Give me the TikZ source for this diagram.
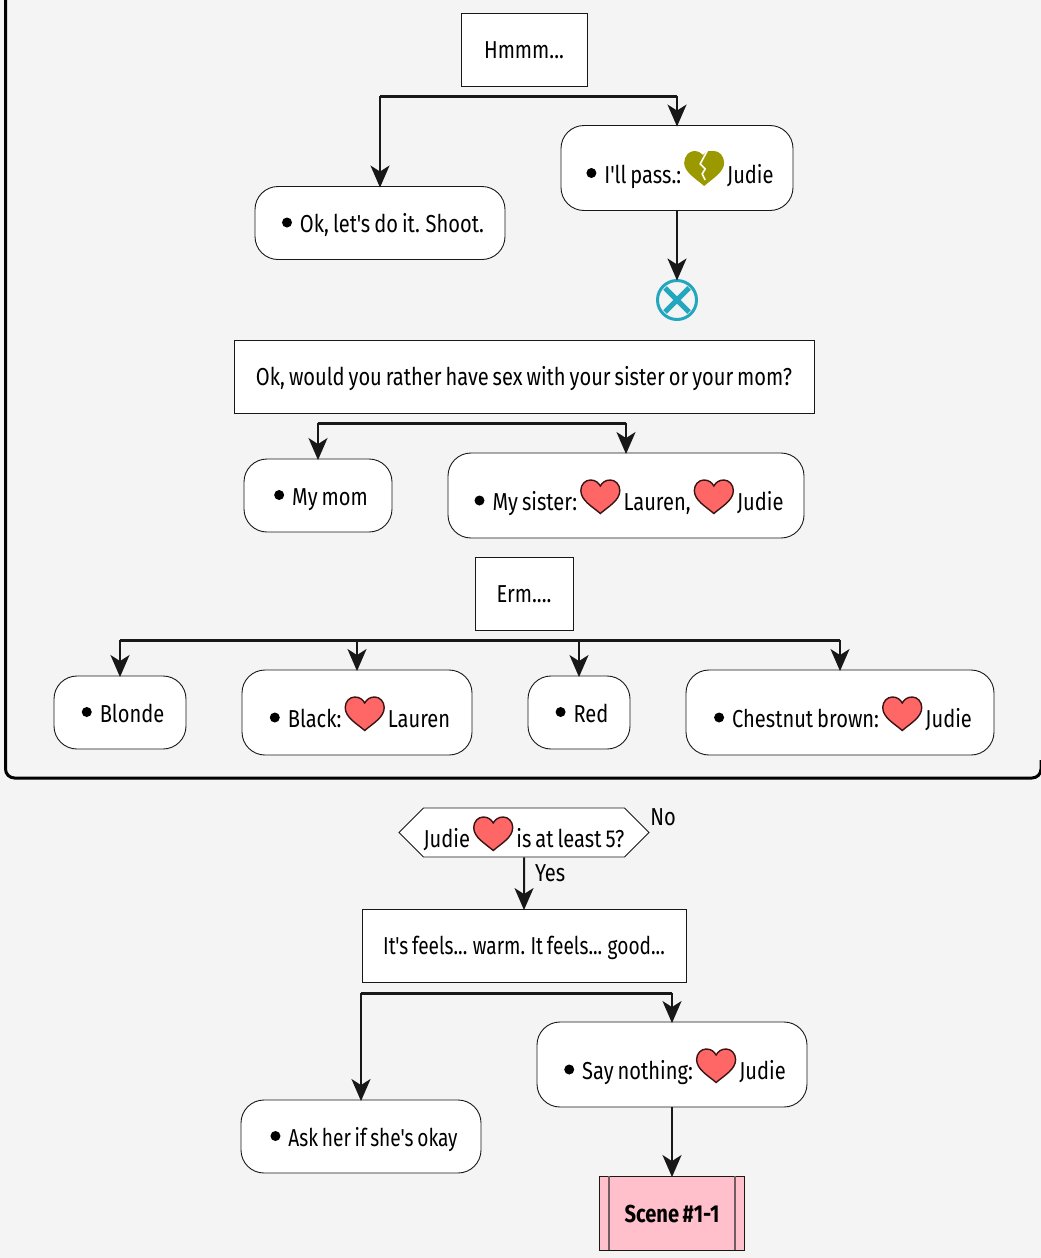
\documentclass[tikz,border=0pt]{standalone}
\usepackage{fontspec}
\defaultfontfeatures[\rmfamily]{}
\setmainfont[FakeStretch=0.82, WordSpace=0.75]{Fira Sans}
\usetikzlibrary{arrows.meta}
\usetikzlibrary{shapes.symbols}
\definecolor{pagegray}{HTML}{F4F4F4}
\definecolor{edgegray}{HTML}{181818}
\definecolor{heartred}{HTML}{FF6666}
\definecolor{heartedge}{HTML}{3A1414}
\definecolor{brokenolive}{HTML}{9A9A00}
\definecolor{stopteal}{HTML}{22A7BF}
\definecolor{scenepink}{HTML}{FFC0CB}

\newcommand{\dotmark}{\hspace*{6pt}\tikz[baseline=0pt, x=1pt, y=1pt]{\fill[black] (0,10) circle (5);}\hspace{8pt}}
\newcommand{\heartmark}{\hspace{3pt}\tikz[baseline=3pt, x=1pt, y=1pt, sharp corners]{\draw[fill=heartred, draw=heartedge, line width=1.4pt] (0,0) .. controls (-8,7) and (-19.5,13) .. (-19.5,23) .. controls (-19.5,29) and (-15,33.5) .. (-10,33.5) .. controls (-5,33.5) and (-2,31) .. (0,27.5) .. controls (2,31) and (5,33.5) .. (10,33.5) .. controls (15,33.5) and (19.5,29) .. (19.5,23) .. controls (19.5,13) and (8,7) .. (0,0) -- cycle;}\hspace{3pt}}
\newcommand{\brokenmark}{\hspace{3pt}\tikz[baseline=3pt, x=1pt, y=1pt, sharp corners]{\fill[brokenolive] (0,0) .. controls (-8,7) and (-20,14) .. (-20,23) .. controls (-20,30) and (-15,35) .. (-10,35) .. controls (-6,35) and (-3,33) .. (-1,31) -- (3,35) .. controls (5,35) and (7,35) .. (10,35) .. controls (15,35) and (20,30) .. (20,23) .. controls (20,14) and (8,7) .. (0,0) -- cycle; \draw[white, line width=1.6pt] (3,35) -- (-4,22) -- (1,17) -- (-2,12) -- (1,6);}\hspace{3pt}}

\begin{document}
\begin{tikzpicture}[
    node distance=100pt,
    every node/.style={font=\fontsize{24.5}{27}\selectfont, text=black},
    action/.style={rectangle, draw=edgegray, fill=white, line width=0.9pt, rounded corners=23pt, inner sep=0pt, minimum height=73pt, text height=25pt, text depth=6pt},
    tallaction/.style={action, minimum height=85pt, text height=36pt, text depth=6pt},
    note/.style={rectangle, draw=edgegray, fill=white, line width=0.9pt, inner sep=0pt, minimum height=73pt, text height=24pt, text depth=6pt},
    choice/.style={signal, signal to=west and east, signal pointer angle=90, draw=edgegray, fill=white, line width=0.9pt, inner sep=0pt, minimum width=246pt, minimum height=49pt, text height=36pt, text depth=6pt},
    scenebox/.style={rectangle, draw=edgegray, fill=scenepink, line width=0.9pt, inner sep=0pt, minimum width=145pt, minimum height=74pt, text height=24pt, text depth=6pt, font=\fontsize{24.5}{27}\selectfont\bfseries},
    sceneline/.style={draw=edgegray!60!scenepink, line width=1.4pt},
    narrowtext/.style={font=\fontsize{24.5}{27}\selectfont\addfontfeature{FakeStretch=0.78}},
    label/.style={inner sep=0pt},
    bar/.style={draw=edgegray, line width=3pt},
    arrow/.style={-{Stealth[length=22pt, width=19pt, inset=6pt]}, shorten >=-1.5pt, draw=edgegray, line width=2pt}
]
\useasboundingbox (0pt,0pt) rectangle (1041pt,-1258pt);
\fill[pagegray] (0pt,0pt) rectangle (1041pt,-1258pt);

% Frame of the group
\draw[black, line width=3pt, rounded corners=9pt] (5.5pt,20pt) -- (5.5pt,-778pt) -- (1041pt,-778pt) -- (1041pt,-760pt);

% First question
\node[note, minimum width=126pt] (hmmm) at (524pt,-49.5pt) {Hmmm...};
\node[action, below of=hmmm, node distance=173.5pt, xshift=-144pt, minimum width=250pt] (shoot) {\dotmark Ok, let's do it. Shoot.};
\node[tallaction, below of=hmmm, node distance=118.5pt, xshift=153pt, minimum width=232pt] (pass) {\dotmark I'll pass.:\brokenmark Judie};
\node[circle, draw=stopteal, line width=3pt, inner sep=0pt, minimum size=39pt, below of=pass, node distance=132pt] (stop) {};
\draw[stopteal, line width=5pt] ([shift={(-12pt,-12pt)}]stop.center) -- ([shift={(12pt,12pt)}]stop.center);
\draw[stopteal, line width=5pt] ([shift={(-12pt,12pt)}]stop.center) -- ([shift={(12pt,-12pt)}]stop.center);

% Second question
\node[note, below of=hmmm, node distance=327pt, minimum width=580pt] (rather) {Ok, would you rather have sex with your sister or your mom?};
\node[action, below of=rather, node distance=119pt, xshift=-206pt, minimum width=148pt] (mom) {\dotmark My mom};
\node[tallaction, below of=rather, node distance=119pt, xshift=102pt, minimum width=356pt] (sister) {\dotmark My sister:\heartmark Lauren,\heartmark Judie};

% Third question
\node[note, below of=rather, node distance=217pt, minimum width=98pt] (erm) {Erm....};
\node[action, below of=erm, node distance=119pt, xshift=-404pt, minimum width=132pt] (blonde) {\dotmark Blonde};
\node[tallaction, below of=erm, node distance=119pt, xshift=-167pt, minimum width=230pt] (black) {\dotmark Black:\heartmark Lauren};
\node[action, below of=erm, node distance=119pt, xshift=55pt, minimum width=102pt] (red) {\dotmark Red};
\node[tallaction, below of=erm, node distance=119pt, xshift=316pt, minimum width=308pt] (chestnut) {\dotmark Chestnut brown:\heartmark Judie};

% Outside the group
\node[choice, below of=erm, node distance=239pt] (atleast) {Judie\heartmark is at least 5?};
\node[label, right of=atleast, node distance=139pt, yshift=15.5pt] (nolabel) {No};
\node[note, narrowtext, below of=atleast, node distance=113pt, minimum width=324pt] (warm) {It's feels... warm. It feels... good...};
\node[action, narrowtext, below of=warm, node distance=191pt, xshift=-163pt, minimum width=240pt] (okay) {\dotmark Ask her if she's okay};
\node[tallaction, below of=warm, node distance=119pt, xshift=148pt, minimum width=270pt] (nothing) {\dotmark Say nothing:\heartmark Judie};
\node[scenebox, below of=nothing, node distance=148.5pt] (scene) {Scene \#1-1};
\draw[sceneline] ([xshift=10pt]scene.north west) -- ([xshift=10pt]scene.south west);
\draw[sceneline] ([xshift=-10pt]scene.north east) -- ([xshift=-10pt]scene.south east);

% Split bars
\coordinate (hmmmleft) at (shoot.center |- 0pt,-96pt);
\coordinate (hmmmright) at (pass.center |- 0pt,-96pt);
\coordinate (ratherleft) at (mom.center |- 0pt,-423pt);
\coordinate (ratherright) at (sister.center |- 0pt,-423pt);
\coordinate (ermleft) at (blonde.center |- 0pt,-640pt);
\coordinate (ermblack) at (black.center |- 0pt,-640pt);
\coordinate (ermred) at (red.center |- 0pt,-640pt);
\coordinate (ermright) at (chestnut.center |- 0pt,-640pt);
\coordinate (warmleft) at (okay.center |- 0pt,-993pt);
\coordinate (warmright) at (nothing.center |- 0pt,-993pt);
\draw[bar] (hmmmleft) -- (hmmmright);
\draw[bar] (ratherleft) -- (ratherright);
\draw[bar] (ermleft) -- (ermright);
\draw[bar] (warmleft) -- (warmright);

% Arrows
\draw[arrow] (hmmmleft) -- (shoot);
\draw[arrow] (hmmmright) -- (pass);
\draw[arrow] (pass) -- (stop);
\draw[arrow] (ratherleft) -- (mom);
\draw[arrow] (ratherright) -- (sister);
\draw[arrow] (ermleft) -- (blonde);
\draw[arrow] (ermblack) -- (black);
\draw[arrow] (ermred) -- (red);
\draw[arrow] (ermright) -- (chestnut);
\draw[arrow] (atleast) -- (warm) node[label, pos=0.3, right, xshift=10pt] {Yes};
\draw[arrow] (warmleft) -- (okay);
\draw[arrow] (warmright) -- (nothing);
\draw[arrow] (nothing) -- (scene);

\end{tikzpicture}
\end{document}
